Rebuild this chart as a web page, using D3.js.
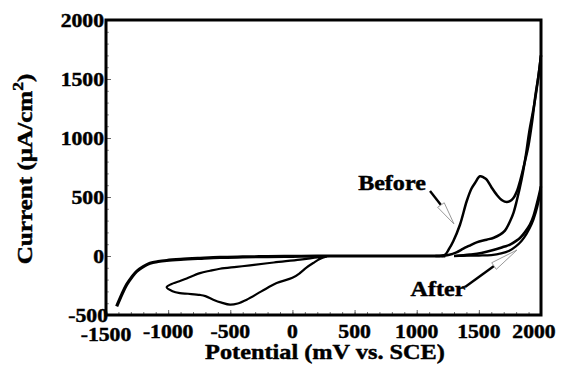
<!DOCTYPE html>
<html>
<head>
<meta charset="utf-8">
<script src="https://cdn.jsdelivr.net/npm/d3@7"></script>
<style>
  body { margin: 0; background: #fff; }
  svg text { font-family: "Liberation Serif", "Times New Roman", serif; font-weight: bold;
             stroke: #000; stroke-width: 0.45px; }
</style>
</head>
<body>
<svg id="chart" width="567" height="372"></svg>
<script>
// axis ticks
const xTicks = [-1500, -1000, -500, 0, 500, 1000, 1500, 2000];
const yTicks = [-500, 0, 500, 1000, 1500, 2000];

// traces, [potential mV, current uA/cm2]
const mainTrace = [[-1414,-427],[-1370,-320],[-1334,-243],[-1290,-175],[-1253,-130],[-1200,-90],[-1146,-62],
  [-1080,-47],[-1012,-38],[-900,-29],[-744,-20],[-583,-12],[-400,-8],[-200,-5],[0,-3],[200,-1],[300,0],
  [600,0],[900,0],[1230,0]];
const beforeFwd = [[1150,0],[1227,11],[1260,60],[1294,125],[1348,265],[1402,464],[1440,570],[1469,619],
  [1509,676],[1540,665],[1563,647],[1600,585],[1643,520],[1690,470],[1724,458],[1750,465],[1778,492],
  [1810,560],[1831,633],[1871,803],[1898,930],[1930,1150],[1955,1360],[1980,1530],[2000,1700]];
const beforeRet = [[2000,1700],[1975,1490],[1950,1310],[1905,1050],[1879,860],[1844,650],[1804,464],
  [1780,370],[1751,294],[1710,215],[1670,181],[1620,155],[1563,138],[1482,116],[1420,85],[1375,62],
  [1320,30],[1254,8],[1200,0]];
const afterFwd = [[1300,0],[1429,12],[1520,25],[1616,50],[1700,78],[1751,96],[1800,128],[1831,153],
  [1870,200],[1911,265],[1940,340],[1965,435],[1985,520],[2000,590]];
const afterRet = [[2000,590],[1982,470],[1958,370],[1925,270],[1885,190],[1845,130],[1795,80],
  [1745,45],[1680,22],[1600,8],[1500,4],[1400,2],[1300,0]];
const cathodicLoop = [[276,-3],[220,-25],[168,-59],[110,-100],[61,-144],[0,-185],[-127,-229],
  [-250,-300],[-368,-370],[-440,-402],[-502,-412],[-570,-395],[-637,-370],[-700,-340],[-744,-330],
  [-840,-320],[-905,-314],[-965,-298],[-1012,-265],[-960,-232],[-900,-210],[-851,-190],[-744,-145],
  [-663,-125],[-583,-108],[-450,-92],[-341,-79],[-150,-55],[61,-31],[200,-12],[276,-3]];

// annotations: label point, arrow start, arrow bend, arrow tip (data units)
const beforeNote = { text: "Before", at: [801, 559], from: [1107, 551], to: [1195, 432], tip: [1300, 271] };
const afterNote  = { text: "After",  at: [1171, -339], from: [1389, -263], to: [1622, -85], tip: [1807, 51] };

const svg = d3.select("#chart");
const margin = { top: 20, right: 26, bottom: 57, left: 106 };
const width = 567 - margin.left - margin.right;
const height = 372 - margin.top - margin.bottom;
const sx = 1.14; // the scanned lettering is wider than Times

const x = d3.scaleLinear().domain([-1500, 2000]).range([margin.left, margin.left + width]);
const y = d3.scaleLinear().domain([-500, 2000]).range([margin.top + height, margin.top]);

// minor inward ticks
const g = svg.append("g");
g.append("g")
  .attr("transform", `translate(0,${y(-500)})`)
  .call(d3.axisTop(x).tickValues(d3.range(-1500, 2001, 100)).tickSize(3).tickFormat(""))
  .call(a => a.select(".domain").remove())
  .call(a => a.selectAll("line").attr("stroke", "#777"));
g.append("g")
  .attr("transform", `translate(0,${y(-500)})`)
  .call(d3.axisTop(x).tickValues(xTicks).tickSize(5).tickFormat(""))
  .call(a => a.select(".domain").remove())
  .call(a => a.selectAll("line").attr("stroke", "#666"));
g.append("g")
  .attr("transform", `translate(${x(-1500)},0)`)
  .call(d3.axisRight(y).tickValues(d3.range(-500, 2001, 100)).tickSize(3).tickFormat(""))
  .call(a => a.select(".domain").remove())
  .call(a => a.selectAll("line").attr("stroke", "#999"));
g.append("g")
  .attr("transform", `translate(${x(-1500)},0)`)
  .call(d3.axisRight(y).tickValues(yTicks).tickSize(5).tickFormat(""))
  .call(a => a.select(".domain").remove())
  .call(a => a.selectAll("line").attr("stroke", "#666"));

// curves
const line = d3.line().x(d => x(d[0])).y(d => y(d[1])).curve(d3.curveCatmullRom.alpha(0.5));
const traces = [
  [mainTrace, 3.2], [beforeFwd, 2.5], [beforeRet, 2.5], [afterFwd, 2.6], [afterRet, 2.2], [cathodicLoop, 2.2]
];
svg.selectAll("path.trace")
  .data(traces)
  .enter().append("path")
  .attr("class", "trace")
  .attr("d", d => line(d[0]))
  .attr("fill", "none")
  .attr("stroke", "#000")
  .attr("stroke-width", d => d[1])
  .attr("stroke-linejoin", "round");

// frame
svg.append("rect")
  .attr("x", x(-1500)).attr("y", y(2000))
  .attr("width", x(2000) - x(-1500)).attr("height", y(-500) - y(2000))
  .attr("fill", "none").attr("stroke", "#000").attr("stroke-width", 3);

// tick labels
svg.append("g").selectAll("text")
  .data(xTicks)
  .enter().append("text")
  .attr("transform", d => `translate(${d === 2000 ? x(d) - 7 : x(d)},${d === -1500 ? 341 : 338}) scale(${sx},1)`)
  .attr("text-anchor", "middle")
  .attr("font-size", 19)
  .text(d => d);
svg.append("g").selectAll("text")
  .data(yTicks)
  .enter().append("text")
  .attr("transform", d => `translate(${d === -500 ? 108 : 104},${y(d) + 7}) scale(${sx},1)`)
  .attr("text-anchor", "end")
  .attr("font-size", 19)
  .text(d => d);

// axis titles
svg.append("text")
  .attr("transform", `translate(325,359) scale(1.13,1)`)
  .attr("text-anchor", "middle")
  .attr("font-size", 21.5)
  .text("Potential (mV vs. SCE)");
const yt = svg.append("text")
  .attr("transform", "translate(32,169) rotate(-90) scale(1.17,1)")
  .attr("text-anchor", "middle")
  .attr("font-size", 21.5);
yt.append("tspan").text("Current (\u03bcA/cm");
yt.append("tspan").attr("font-size", 15).attr("dy", -9).text("2");
yt.append("tspan").attr("dy", 9).text(")");

// annotations
function note(n) {
  svg.append("text")
    .attr("transform", `translate(${x(n.at[0])},${y(n.at[1])}) scale(1.12,1)`)
    .attr("text-anchor", "middle")
    .attr("font-size", 21.5)
    .text(n.text);
  const p0 = [x(n.from[0]), y(n.from[1])];
  const p1 = [x(n.to[0]), y(n.to[1])];
  const p2 = [x(n.tip[0]), y(n.tip[1])];
  svg.append("line")
    .attr("x1", p0[0]).attr("y1", p0[1]).attr("x2", p1[0]).attr("y2", p1[1])
    .attr("stroke", "#000").attr("stroke-width", 2.4);
  const dx = p2[0] - p1[0], dy = p2[1] - p1[1];
  const len = Math.hypot(dx, dy);
  const nx = -dy / len * 4, ny = dx / len * 4;
  svg.append("path")
    .attr("d", `M${p1[0] + nx},${p1[1] + ny}L${p2[0]},${p2[1]}L${p1[0] - nx},${p1[1] - ny}Z`)
    .attr("fill", "#fff").attr("stroke", "#999").attr("stroke-width", 1);
}
note(beforeNote);
note(afterNote);
</script>
</body>
</html>
